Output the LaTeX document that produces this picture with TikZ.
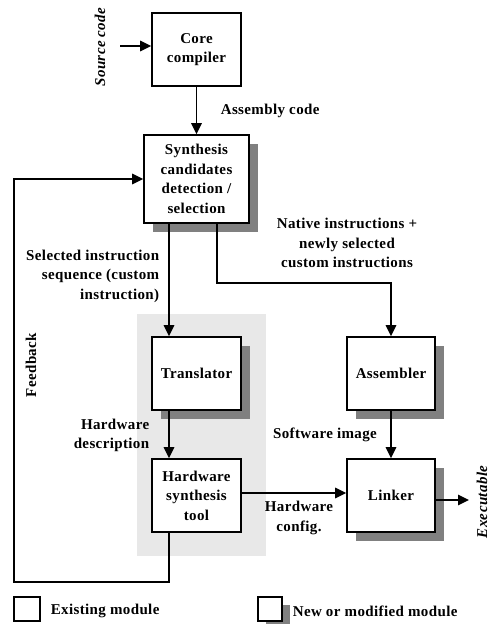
\documentclass[tikz,border=0pt]{standalone}
\usepackage{fontspec}
\setmainfont{Liberation Serif}[LetterSpace=2.5]
\usetikzlibrary{arrows.meta,shadows}

\definecolor{shadowgray}{HTML}{808080}
\definecolor{bggray}{HTML}{E8E8E8}
\newcommand{\flowfont}{\fontsize{15}{19.5}\selectfont\bfseries}

\tikzset{
	module/.style={draw,fill=white,align=center,minimum width=89pt,minimum height=73pt},
	newmodule/.style={module,drop shadow={shadow xshift=9pt,shadow yshift=-9pt,fill=shadowgray,opacity=1}},
	sidenote/.style={rotate=90,font=\flowfont\itshape},
}

\begin{document}
\begin{tikzpicture}[x=1pt,y=-1pt,>={Triangle[length=11pt,width=10.5pt]},line width=1.6pt,inner sep=2pt,font=\flowfont]
	\useasboundingbox (0,0) rectangle (490,624);
	\fill[bggray] (137,314) rectangle (266,556);	%new hardware part
	
	\node[module] (core) at (196.5,49.5) {Core\\compiler};
	\node[newmodule,minimum width=105pt,minimum height=88pt] (synth) at (196.5,179) {Synthesis\\candidates\\detection /\\selection};
	\node[newmodule] (trans) at (196.5,373.5) {Translator};
	\node[newmodule,minimum width=88pt] (asm) at (391,373.5) {Assembler};
	\node[module] (hwsyn) at (196.5,495.5) {Hardware\\synthesis\\tool};
	\node[newmodule,minimum width=88pt] (linker) at (391,495.5) {Linker};
	
	\node[sidenote] (srclbl) at (100,47) {Source code};
	\node[anchor=west] (asmlbl) at (218,111) {Assembly code};
	\node[align=center] (natlbl) at (347,243) {Native instructions +\\newly selected\\custom instructions};
	\node[align=right,anchor=east] (sellbl) at (162,276) {Selected instruction\\sequence (custom\\instruction)};
	\node[rotate=90] (fblbl) at (31,365) {Feedback};
	\node[align=right,anchor=east] (hdlbl) at (152,435.5) {Hardware\\description};
	\node (swlbl) at (325,435) {Software image};
	\node[align=center] (cfglbl) at (299,518) {Hardware\\config.};
	\node[sidenote] (exelbl) at (482,502) {Executable};
	
	\coordinate (src) at (120,46);
	\coordinate (exe) at (469,500);
	\coordinate (fb) at (14,582);
	
	\draw[->] (src)--(src -| core.west);								%source--core
	\draw[->] (core)--(synth);											%core--synth
	\draw[->] ([xshift=-27.5pt]synth.south)--([xshift=-27.5pt]trans.north);	%synth--translator
	\draw[->] ([xshift=20.5pt]synth.south)--++(0,59)-|(asm.north);		%synth--assembler
	\draw[->] ([xshift=-27.5pt]trans.south)--([xshift=-27.5pt]hwsyn.north);	%translator--hw
	\draw[->] (asm)--(linker);											%assembler--linker
	\draw[->] ([yshift=2.5pt]hwsyn.east)--([yshift=2.5pt]linker.west);	%hw--linker
	\draw[->] ([yshift=-4.5pt]linker.east)--(exe);						%linker--out
	\draw[->] ([xshift=-27.5pt]hwsyn.south)|-(fb)|-(synth.west);		%feedback
	
	% legend
	\node[draw,minimum width=26pt,minimum height=24pt] (oldkey) at (27,609) {};
	\node[anchor=west] (oldtxt) at (48,611) {Existing module};
	\node[draw,fill=white,minimum width=24pt,minimum height=24pt,drop shadow={shadow xshift=8pt,shadow yshift=-8pt,fill=shadowgray,opacity=1}] (newkey) at (270,609) {};
	\node[anchor=west] (newtxt) at (290,611) {New or modified module};
\end{tikzpicture}
\end{document}
